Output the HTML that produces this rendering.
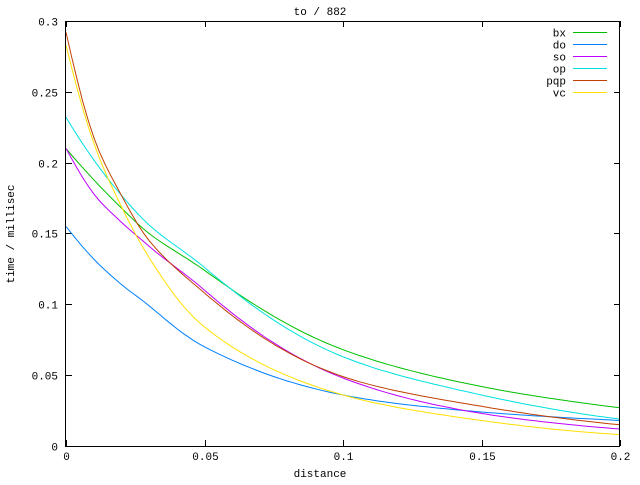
<!DOCTYPE html>
<html><head><meta charset="utf-8"><style>
body{margin:0;background:#fff}
svg text{font-family:"Liberation Mono","DejaVu Sans Mono",monospace;font-size:11px;fill:#000}
</style></head><body>
<svg id="s" width="640" height="480" xmlns="http://www.w3.org/2000/svg">
<rect width="640" height="480" fill="#fff"/>
<g id="ticks" stroke="#000" stroke-width="1"></g>
<g id="curves" fill="none" stroke-width="1"></g>
<rect x="65.5" y="21.5" width="554" height="425" fill="none" stroke="#000"/>
<text x="320" y="15" text-anchor="middle">to / 882</text>
<text x="320" y="477" text-anchor="middle">distance</text>
<text transform="translate(14,234) rotate(-90)" text-anchor="middle">time / millisec</text>
<g id="lab"></g>
</svg>
<script>
var X0=66,X1=620,Y0=21,Y1=446;
function px(v){return X0+v/0.2*(X1-X0)}
function py(v){return Y1-v/0.3*(Y1-Y0)}
var t=document.getElementById('ticks'),lab=document.getElementById('lab'),NS='http://www.w3.org/2000/svg';
function el(tag,a,p,txt){var e=document.createElementNS(NS,tag);for(var k in a)e.setAttribute(k,a[k]);if(txt)e.textContent=txt;p.appendChild(e);}
var yl=['0','0.05','0.1','0.15','0.2','0.25','0.3'];
for(var i=0;i<7;i++){var y=Math.round(py(i*0.05))+0.5;
 el('line',{x1:66,y1:y,x2:72,y2:y},t);el('line',{x1:614,y1:y,x2:620,y2:y},t);
 el('text',{x:58,y:y+4,'text-anchor':'end'},lab,yl[i]);}
var xl=['0','0.05','0.1','0.15','0.2'];
for(var i=0;i<5;i++){var x=Math.round(px(i*0.05))+0.5;
 el('line',{x1:x,y1:446,x2:x,y2:440},t);el('line',{x1:x,y1:21,x2:x,y2:27},t);
 el('text',{x:x,y:460,'text-anchor':'middle'},lab,xl[i]);}
var C=[
['bx','#00c000',[[0,.21],[.01,.188],[.02,.168],[.03,.150],[.05,.124],[.1,.068],[.15,.042],[.2,.027]]],
['do','#0080ff',[[0,.155],[.01,.132],[.02,.114],[.03,.099],[.05,.07],[.1,.036],[.15,.024],[.2,.018]]],
['so','#c000ff',[[0,.21],[.01,.178],[.02,.158],[.03,.141],[.05,.11],[.1,.048],[.15,.023],[.2,.012]]],
['op','#00e0e0',[[0,.232],[.01,.202],[.02,.177],[.03,.156],[.05,.126],[.1,.063],[.15,.036],[.2,.019]]],
['pqp','#c04000',[[0,.292],[.01,.218],[.02,.177],[.03,.145],[.05,.108],[.1,.049],[.15,.028],[.2,.015]]],
['vc','#ffe000',[[0,.283],[.01,.214],[.02,.169],[.03,.133],[.05,.084],[.1,.036],[.15,.018],[.2,.008]]]];
var g=document.getElementById('curves');
function interp(a,x){var n=a.length,j=0;while(j<n-2&&a[j+1][0]<x-1e-9)j++;
 var L=a.map(function(p){return Math.log(p[1])});
 function sl(i){if(i<=0)return (L[1]-L[0])/(a[1][0]-a[0][0]);if(i>=n-1)return (L[n-1]-L[n-2])/(a[n-1][0]-a[n-2][0]);
  return (L[i+1]-L[i-1])/(a[i+1][0]-a[i-1][0]);}
 var h=a[j+1][0]-a[j][0],s=(x-a[j][0])/h,m0=sl(j)*h,m1=sl(j+1)*h;
 var s2=s*s,s3=s2*s;
 var v=(2*s3-3*s2+1)*L[j]+(s3-2*s2+s)*m0+(-2*s3+3*s2)*L[j+1]+(s3-s2)*m1;return Math.exp(v);}
C.forEach(function(c,k){var a=c[2],pts=[];
 for(var i=0;i<=100;i++){var x=i*0.002;var v=interp(a,x);
  pts.push(px(x).toFixed(1)+','+py(v).toFixed(1));}
 el('polyline',{points:pts.join(' '),stroke:c[1]},g);
 var ly=32.5+k*12;el('line',{x1:573,y1:ly,x2:607,y2:ly,stroke:c[1]},g);
 el('text',{x:566,y:ly+4,'text-anchor':'end'},lab,c[0]);});
</script>
</body></html>
